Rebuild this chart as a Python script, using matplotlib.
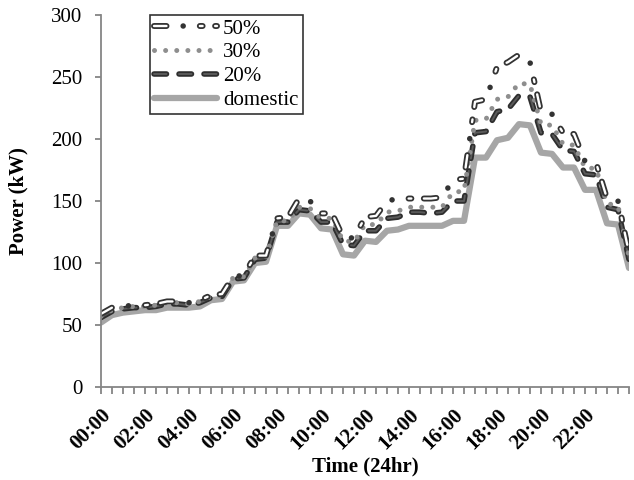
import numpy as np
import matplotlib
matplotlib.use('Agg')
import matplotlib.pyplot as plt
import matplotlib.patheffects as pe

plt.rcParams['font.family'] = ['Liberation Serif', 'DejaVu Serif']
plt.rcParams['lines.scale_dashes'] = False

# half-hour slots, 00:00 .. 24:00
slots = np.arange(49)
hour_labels = ['00:00', '02:00', '04:00', '06:00', '08:00', '10:00',
               '12:00', '14:00', '16:00', '18:00', '20:00', '22:00']

domestic = [52, 58, 60, 61, 62, 62, 64, 64, 64, 65, 70, 71, 85, 86, 100, 101,
            130, 130, 140, 139, 128, 127, 107, 106, 118, 117, 126, 127, 130, 130,
            130, 130, 134, 134, 185, 185, 199, 201, 212, 211, 189, 188, 177, 177,
            159, 159, 132, 131, 96]
ev20 = [56, 61, 63, 64, 64, 65, 67, 67, 66, 68, 72, 73, 87, 88, 103, 104,
        133, 133, 143, 142, 133, 133, 115, 114, 126, 126, 136, 137, 141, 141,
        140, 141, 150, 150, 205, 206, 222, 224, 235, 234, 205, 204, 191, 190,
        172, 171, 145, 143, 103]
ev30 = [57, 62, 64, 65, 65, 66, 68, 68, 67, 69, 73, 74, 88, 89, 104, 105,
        134, 134, 145, 144, 136, 136, 118, 117, 131, 131, 141, 142, 145, 145,
        145, 145, 157, 158, 215, 216, 232, 234, 245, 244, 212, 211, 196, 195,
        177, 176, 148, 146, 105]
ev50 = [59, 64, 65, 66, 66, 67, 69, 69, 68, 70, 74, 75, 89, 90, 106, 106,
        136, 137, 152, 150, 140, 140, 121, 120, 137, 138, 150, 152, 152, 152,
        152, 153, 167, 168, 230, 232, 258, 262, 268, 262, 222, 220, 205, 204,
        182, 181, 152, 150, 108]

fig = plt.figure(figsize=(6.34, 4.8), dpi=100)
ax = fig.add_axes([101 / 634, 1 - 387 / 480, 528 / 634, 372 / 480])

# domestic: thick light grey
l_dom, = ax.plot(slots, domestic, color='#a6a6a6', lw=4.5, solid_capstyle='round',
                 solid_joinstyle='round', label='domestic')

# 20%: dark dashes
l20, = ax.plot(slots, ev20, color='#5a5a5a', lw=1.4, dash_capstyle='round',
               linestyle=(0, (9, 9)), label='20%',
               path_effects=[pe.Stroke(linewidth=4, foreground='#2e2e2e'), pe.Normal()])

# 30%: grey round dots
l30, = ax.plot(slots, ev30, color='#8e8e8e', lw=3.6, dash_capstyle='round',
               linestyle=(0, (0.01, 8)), label='30%')

# 50%: hollow long dash, solid dot, hollow short dash
l50a, = ax.plot(slots, ev50, color='white', lw=1.7, dash_capstyle='round',
                linestyle=(0, (9, 24, 2, 9)),
                path_effects=[pe.Stroke(linewidth=4.3, foreground='#333333'), pe.Normal()])
l50b, = ax.plot(slots, ev50, color='#333333', lw=4.0, dash_capstyle='round',
                linestyle=(23, (0.01, 43.99)))

ax.set_xlim(0, 48)
ax.set_ylim(0, 300)
ax.set_yticks(range(0, 301, 50))
ax.set_xticks(slots)
ax.set_xticklabels([hour_labels[i // 4] if i % 4 == 0 and i < 48 else '' for i in slots],
                   rotation=45, ha='right', rotation_mode='anchor', fontweight='bold')

for s in ['top', 'right']:
    ax.spines[s].set_visible(False)
for s in ['left', 'bottom']:
    ax.spines[s].set_color('#868686')
    ax.spines[s].set_linewidth(1.3)
ax.tick_params(axis='both', colors='#7a7a7a', labelcolor='black', labelsize=15, width=1.2)
ax.tick_params(axis='y', length=4, pad=9.5)
ax.tick_params(axis='x', length=5, pad=8)

ax.set_xlabel('Time (24hr)', fontsize=15, fontweight='bold')
ax.set_ylabel('Power (kW)', fontsize=15, fontweight='bold')
ax.xaxis.set_label_coords(0.5, -0.188)
ax.yaxis.set_label_coords(-0.138, 0.5)

leg = ax.legend([(l50a, l50b), l30, l20, l_dom], ['50%', '30%', '20%', 'domestic'],
                loc='upper left', bbox_to_anchor=(0.093, 1.0), borderaxespad=0,
                fontsize=15, handlelength=3.0, handletextpad=0.3, labelspacing=0.2,
                borderpad=0.2, fancybox=False, frameon=True)
leg.get_frame().set_edgecolor('black')
leg.get_frame().set_linewidth(1.2)

plt.savefig('out.png', dpi=100)
